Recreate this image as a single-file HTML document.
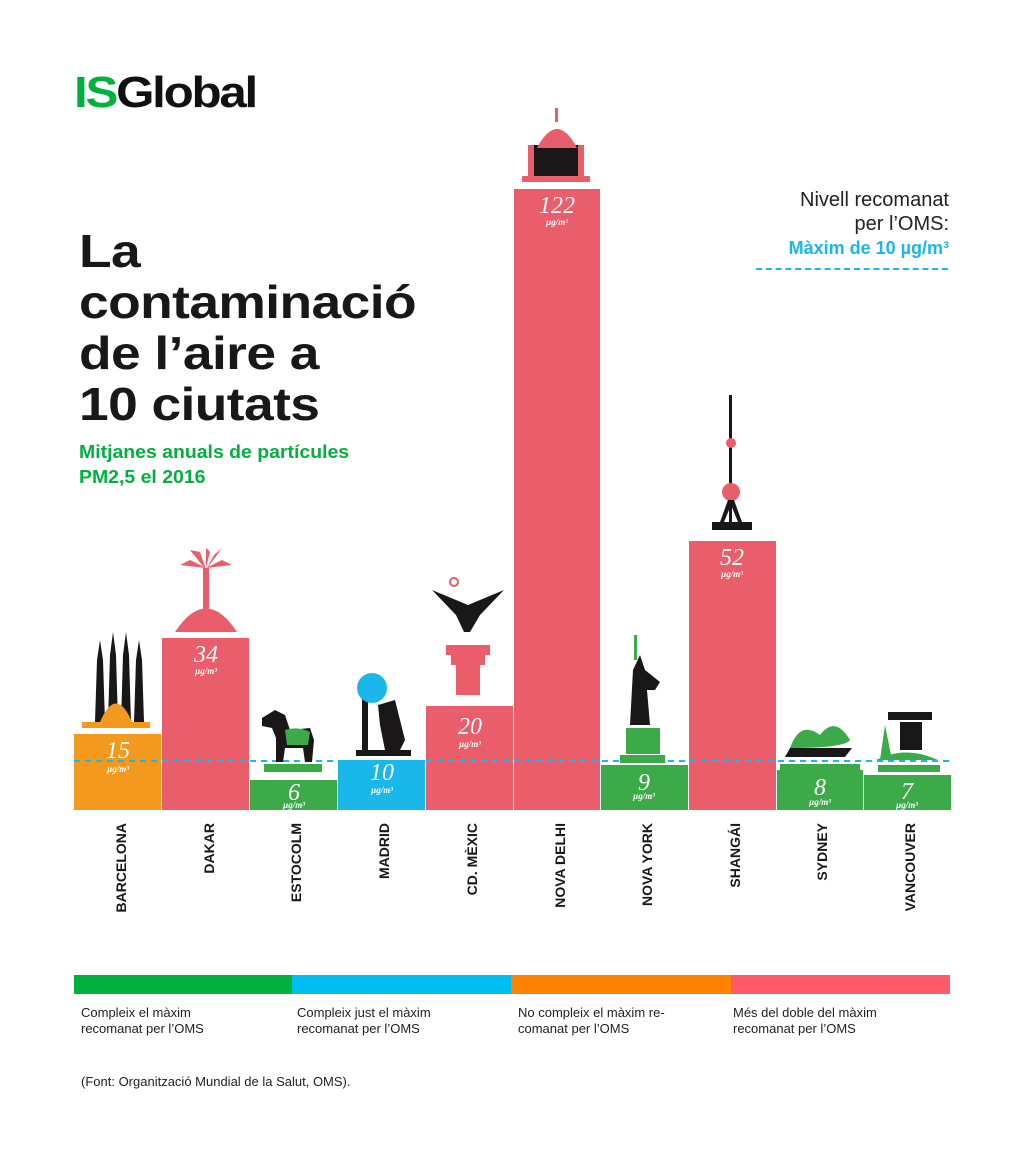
<!DOCTYPE html>
<html><head><meta charset="utf-8"><style>
body{margin:0;background:#fff;width:1024px;height:1156px;position:relative;font-family:"Liberation Sans",sans-serif;overflow:hidden}
.a{position:absolute}
.t{font-weight:bold;font-size:46px;line-height:51px;letter-spacing:-0.5px;color:#1a1718;left:79px;top:226px;transform:scaleX(1.16);transform-origin:0 0}
.s{font-weight:bold;font-size:18px;line-height:25px;color:#00b140;left:79px;top:440px;transform:scaleX(1.08);transform-origin:0 0}
.lg{font-size:13px;line-height:16px;color:#222}
</style></head><body>
<div class="a" style="left:74px;top:68px;font-weight:bold;font-size:44px;letter-spacing:-2px;line-height:50px;transform:scaleX(1.12);transform-origin:0 0"><span style="color:#00b140">IS</span><span style="color:#111">Global</span></div>
<div class="a t">La<br>contaminació<br>de l’aire a<br>10 ciutats</div>
<div class="a s">Mitjanes anuals de partícules<br>PM2,5 el 2016</div>
<div class="a" style="right:75px;top:188px;text-align:right;font-size:20px;line-height:24px;color:#222">Nivell recomanat<br>per l’OMS:<br><b style="color:#1ab7ea;font-size:18px">Màxim de 10 µg/m³</b></div>
<div class="a" style="left:756px;top:268px;width:192px;border-top:2px dashed #1ab7ea"></div>
<svg class="a" style="left:0;top:0" width="1024" height="1156">
<g font-family="Liberation Serif,serif" font-style="italic" fill="#fff" text-anchor="middle">
<rect x="74" y="734" width="87" height="76" fill="#f39a1e"/>
<rect x="162" y="638" width="87" height="172" fill="#ea5d6a"/>
<rect x="250" y="780" width="87" height="30" fill="#3daa4a"/>
<rect x="338" y="760" width="87" height="50" fill="#1ab7ea"/>
<rect x="426" y="706" width="87" height="104" fill="#ea5d6a"/>
<rect x="514" y="189" width="86" height="621" fill="#ea5d6a"/>
<rect x="601" y="765" width="87" height="45" fill="#3daa4a"/>
<rect x="689" y="541" width="87" height="269" fill="#ea5d6a"/>
<rect x="777" y="770" width="86" height="40" fill="#3daa4a"/>
<rect x="864" y="775" width="87" height="35" fill="#3daa4a"/>
<text x="118" y="758" font-size="24">15</text><text x="118" y="772" font-size="9" font-weight="bold">µg/m³</text>
<text x="206" y="662" font-size="24">34</text><text x="206" y="674" font-size="9" font-weight="bold">µg/m³</text>
<text x="294" y="800" font-size="24">6</text><text x="294" y="808" font-size="9" font-weight="bold">µg/m³</text>
<text x="382" y="780" font-size="24">10</text><text x="382" y="793" font-size="9" font-weight="bold">µg/m³</text>
<text x="470" y="734" font-size="24">20</text><text x="470" y="747" font-size="9" font-weight="bold">µg/m³</text>
<text x="557" y="213" font-size="24">122</text><text x="557" y="225" font-size="9" font-weight="bold">µg/m³</text>
<text x="644" y="790" font-size="24">9</text><text x="644" y="799" font-size="9" font-weight="bold">µg/m³</text>
<text x="732" y="565" font-size="24">52</text><text x="732" y="577" font-size="9" font-weight="bold">µg/m³</text>
<text x="820" y="795" font-size="24">8</text><text x="820" y="805" font-size="9" font-weight="bold">µg/m³</text>
<text x="907" y="799" font-size="24">7</text><text x="907" y="808" font-size="9" font-weight="bold">µg/m³</text>
</g>
<line x1="74" y1="761" x2="950" y2="761" stroke="#1ab7ea" stroke-width="2" stroke-dasharray="6,5"/>
<g fill="#1a1718">
<rect x="82" y="722" width="68" height="6" fill="#f39a1e"/>
<path d="M95 722 L97 660 L100 640 L103 660 L105 722Z M108 722 L110 655 L113 632 L116 655 L118 722Z M121 722 L123 655 L126 632 L129 655 L131 722Z M134 722 L136 660 L139 640 L142 660 L144 722Z"/>
<path d="M100 722 Q116 685 132 722Z" fill="#f39a1e"/>
<path d="M175 632 Q206 585 237 632Z" fill="#ea5d6a"/>
<rect x="203" y="568" width="6" height="42" fill="#ea5d6a"/>
<path d="M206 570 L190 550 L200 552Z M206 570 L222 548 L214 555Z M206 568 L180 565 L190 560Z M206 568 L232 565 L222 560Z M206 568 L206 548 L210 552Z" fill="#ea5d6a"/>
<rect x="264" y="764" width="58" height="8" fill="#3daa4a"/>
<path d="M262 718 L275 710 L285 715 L290 730 L310 728 L314 740 L312 762 L305 762 L303 748 L285 748 L283 762 L276 762 L276 738 L272 728 L262 726Z"/>
<path d="M285 730 Q298 726 310 732 L308 745 L287 745Z" fill="#3daa4a"/>
<rect x="356" y="750" width="55" height="6"/>
<rect x="362" y="695" width="6" height="55"/>
<circle cx="372" cy="688" r="15" fill="#1ab7ea"/>
<path d="M378 705 L395 700 L405 740 L400 750 L385 750 L380 725Z"/>
<rect x="456" y="665" width="24" height="30" fill="#ea5d6a"/>
<rect x="446" y="645" width="44" height="10" fill="#ea5d6a"/>
<rect x="451" y="655" width="34" height="10" fill="#ea5d6a"/>
<path d="M432 590 L468 605 L504 590 L480 615 L470 632 L464 632 L456 615Z"/>
<circle cx="454" cy="582" r="4" fill="none" stroke="#ea5d6a" stroke-width="2"/>
<rect x="522" y="176" width="68" height="6" fill="#ea5d6a"/>
<rect x="530" y="145" width="52" height="31"/>
<path d="M537 148 Q557 110 577 148Z" fill="#ea5d6a"/>
<rect x="555" y="108" width="3" height="14" fill="#ea5d6a"/>
<rect x="528" y="145" width="6" height="31" fill="#ea5d6a"/><rect x="578" y="145" width="6" height="31" fill="#ea5d6a"/>
<rect x="620" y="755" width="45" height="8" fill="#3daa4a"/>
<rect x="626" y="728" width="34" height="26" fill="#3daa4a"/>
<path d="M630 725 L633 670 L640 655 L645 670 L660 682 L655 690 L647 690 L650 725Z"/>
<rect x="634" y="635" width="3" height="25" fill="#3daa4a"/>
<rect x="712" y="522" width="40" height="8"/>
<rect x="729" y="395" width="3" height="130"/>
<circle cx="731" cy="492" r="9" fill="#ea5d6a"/>
<circle cx="731" cy="443" r="5" fill="#ea5d6a"/>
<path d="M720 522 L728 500 L734 500 L742 522 L738 522 L731 505 L724 522Z"/>
<rect x="780" y="764" width="80" height="6" fill="#3daa4a"/>
<path d="M785 757 L845 757 L852 748 L790 748Z"/>
<path d="M790 748 Q800 720 820 735 Q835 715 850 740 Q845 748 790 748Z" fill="#3daa4a"/>
<rect x="878" y="765" width="62" height="7" fill="#3daa4a"/>
<path d="M876 760 Q905 745 938 760Z" fill="#3daa4a"/>
<rect x="888" y="712" width="44" height="8"/><rect x="900" y="722" width="22" height="28"/>
<path d="M880 760 L885 725 L892 760Z" fill="#3daa4a"/>
</g>
<g font-weight="bold" font-size="14" fill="#1a1718" font-family="Liberation Sans,sans-serif" text-anchor="end">
<text transform="translate(126,823) rotate(-90)">BARCELONA</text>
<text transform="translate(214,823) rotate(-90)">DAKAR</text>
<text transform="translate(301,823) rotate(-90)">ESTOCOLM</text>
<text transform="translate(389,823) rotate(-90)">MADRID</text>
<text transform="translate(477,823) rotate(-90)">CD. MÈXIC</text>
<text transform="translate(565,823) rotate(-90)">NOVA DELHI</text>
<text transform="translate(652,823) rotate(-90)">NOVA YORK</text>
<text transform="translate(740,823) rotate(-90)">SHANGÁI</text>
<text transform="translate(827,823) rotate(-90)">SYDNEY</text>
<text transform="translate(915,823) rotate(-90)">VANCOUVER</text>
</g>
<rect x="74" y="975" width="218" height="19" fill="#00b140"/>
<rect x="292" y="975" width="219" height="19" fill="#00bff3"/>
<rect x="511" y="975" width="220" height="19" fill="#ff8300"/>
<rect x="731" y="975" width="219" height="19" fill="#ff5a6a"/>
</svg>
<div class="a lg" style="left:81px;top:1005px">Compleix el màxim<br>recomanat per l’OMS</div>
<div class="a lg" style="left:297px;top:1005px">Compleix just el màxim<br>recomanat per l’OMS</div>
<div class="a lg" style="left:518px;top:1005px">No compleix el màxim re-<br>comanat per l’OMS</div>
<div class="a lg" style="left:733px;top:1005px">Més del doble del màxim<br>recomanat per l’OMS</div>
<div class="a lg" style="left:81px;top:1074px">(Font: Organització Mundial de la Salut, OMS).</div>
</body></html>
